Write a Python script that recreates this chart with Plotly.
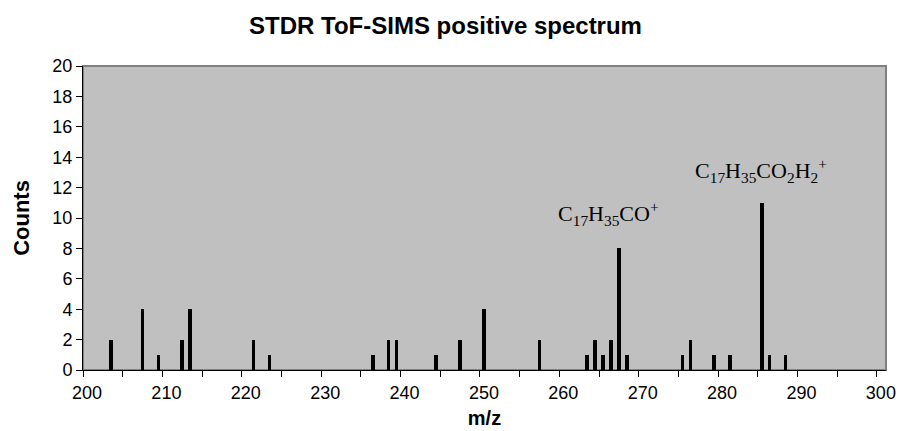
import plotly.graph_objects as go

# Data
mz = [203, 207, 209, 212, 213, 221, 223, 236, 238, 239, 244, 247, 250, 257,
      263, 264, 265, 266, 267, 268, 275, 276, 279, 281, 285, 286, 288]
counts = [2, 4, 1, 2, 4, 2, 1, 1, 2, 2, 1, 2, 4, 2,
          1, 2, 1, 2, 8, 1, 1, 2, 1, 1, 11, 1, 1]

label_texts = ["C<sub>17</sub>H<sub>35</sub>CO<sup>+</sup>",
               "C<sub>17</sub>H<sub>35</sub>CO<sub>2</sub>H<sub>2</sub><sup>+</sup>"]
label_x = [266.2, 285.4]
label_y = [10.3, 13.1]

fig = go.Figure()
fig.add_trace(go.Bar(
    x=mz, y=counts,
    width=0.45, offset=0.275,
    marker=dict(color="black", line=dict(width=0)),
))

for t, x, y in zip(label_texts, label_x, label_y):
    fig.add_annotation(x=x, y=y, text=t, showarrow=False,
                       font=dict(family="Liberation Serif", size=22, color="black"),
                       xanchor="center", yanchor="middle")

fig.add_shape(type="rect", xref="paper", yref="paper", x0=0, x1=1, y0=0, y1=1,
              line=dict(color="#808080", width=2), layer="below")

fig.update_layout(
    width=900, height=431,
    margin=dict(l=83, r=14, t=66, b=61),
    paper_bgcolor="white",
    plot_bgcolor="#C0C0C0",
    showlegend=False,
    font=dict(family="Liberation Sans", color="black"),
    title=dict(text="<b>STDR ToF-SIMS positive spectrum</b>", x=0.495, xanchor="center",
               y=0.94, yanchor="middle", font=dict(size=24, color="black")),
    bargap=0,
)
fig.update_xaxes(range=[200, 301.15], dtick=10, tick0=200, showgrid=False, zeroline=False,
                 showline=True, linecolor="black", linewidth=1, automargin=False,
                 ticks="outside", ticklen=6, tickcolor="black", ticklabelshift=4,
                 minor=dict(dtick=5, ticks="outside", ticklen=6, tickcolor="black", showgrid=False),
                 tickfont=dict(size=18),
                 title=dict(text="<b>m/z</b>", font=dict(size=20), standoff=9))
fig.update_yaxes(range=[0, 20], dtick=2, showgrid=False, zeroline=False,
                 showline=True, linecolor="black", linewidth=1, automargin=False,
                 ticks="outside", ticklen=6, tickcolor="black",
                 tickfont=dict(size=18),
                 title=dict(text="<b>Counts</b>", font=dict(size=22), standoff=16))

fig.write_html("out.html")
